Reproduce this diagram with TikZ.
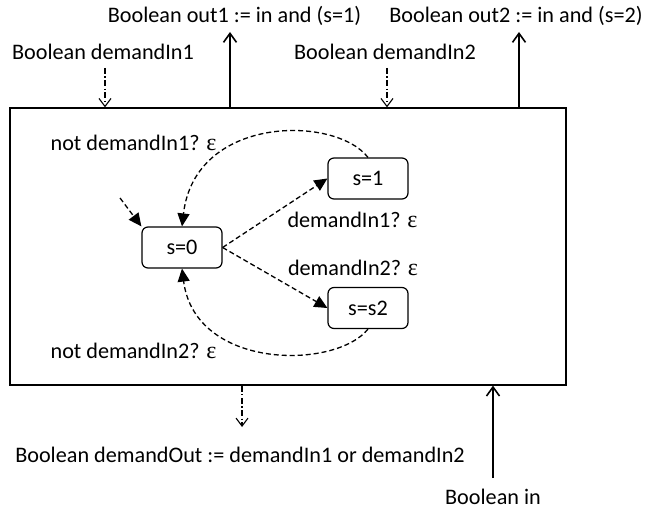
\documentclass[tikz,border=0pt]{standalone}
\usepackage{fontspec}
\setmainfont{Carlito}
\newfontfamily\epsfont{Liberation Serif}
\usetikzlibrary{arrows.meta}
\newcommand{\eps}{{\epsfont\fontsize{24}{26}\selectfont ε}}
\begin{document}
\begin{tikzpicture}[x=1pt,y=-1pt,
  every node/.style={font=\fontsize{22.2}{26}\selectfont, inner sep=0pt},
  frame/.style={draw, line width=1.3pt},
  state/.style={draw, line width=1.2pt, rounded corners=6pt, minimum width=80pt, minimum height=41pt},
  port/.style={line width=1.6pt, -{Straight Barb[length=9pt,width=13pt,line width=1.6pt]}},
  demand/.style={line width=1.1pt, dash pattern=on 6pt off 2.5pt on 1.2pt off 2.5pt,
    -{Straight Barb[length=8pt,width=12pt,line width=1.1pt]}},
  trans/.style={line width=1.3pt, dash pattern=on 5pt off 3pt,
    -{Triangle[length=13pt,width=12pt]}},
  lbl/.style={anchor=center}
]
\useasboundingbox (0,0) rectangle (646,511);

% component frame
\node[frame, minimum width=556pt, minimum height=277pt] (box) at (288,246.5) {};

% interface labels
\node[lbl] (out1) at (234.5,16) {Boolean out1 := in and (s=1)};
\node[lbl] (out2) at (516,16) {Boolean out2 := in and (s=2)};
\node[lbl] (din1) at (103,52) {Boolean demandIn1};
\node[lbl] (din2) at (385,52) {Boolean demandIn2};
\node[lbl] (dout) at (240,455) {Boolean demandOut := demandIn1 or demandIn2};
\node[lbl] (bin) at (493,497) {Boolean in};

% free ends of the interface arrows
\coordinate (o1) at (230,32);
\coordinate (o2) at (519,32);
\coordinate (d1) at (105,68);
\coordinate (d2) at (387,68);
\coordinate (dd) at (242,427);
\coordinate (bi) at (493,478);

\draw[port] (box.north -| o1) -- (o1);
\draw[port] (box.north -| o2) -- (o2);
\draw[port] (bi) -- (box.south -| bi);
\draw[demand] (d1) -- (box.north -| d1);
\draw[demand] (d2) -- (box.north -| d2);
\draw[demand] (box.south -| dd) -- (dd);

% states
\node[state] (s0) at (182,247.5) {s=0};
\node[state] (s1) at (368,178.5) {s=1};
\node[state] (s2) at (368,308) {s=s2};

% initial marker
\coordinate (init) at (120,198);
\draw[trans] (init) -- (s0.north west);

% transitions
\draw[trans] (s0.east) -- (s1.west);
\draw[trans] (s0.east) -- (s2.west);
\draw[trans] (s1.north) .. controls (335,115) and (195,115) .. (s0.north);
\draw[trans] (s2.south) .. controls (335,370) and (195,370) .. (s0.south);

% transition labels
\node[lbl] (t1) at (133.5,142.5) {not demandIn1? \eps};
\node[lbl] (t2) at (352.5,219.5) {demandIn1? \eps};
\node[lbl] (t3) at (353,267.5) {demandIn2? \eps};
\node[lbl] (t4) at (133.5,350.5) {not demandIn2? \eps};
\end{tikzpicture}
\end{document}
